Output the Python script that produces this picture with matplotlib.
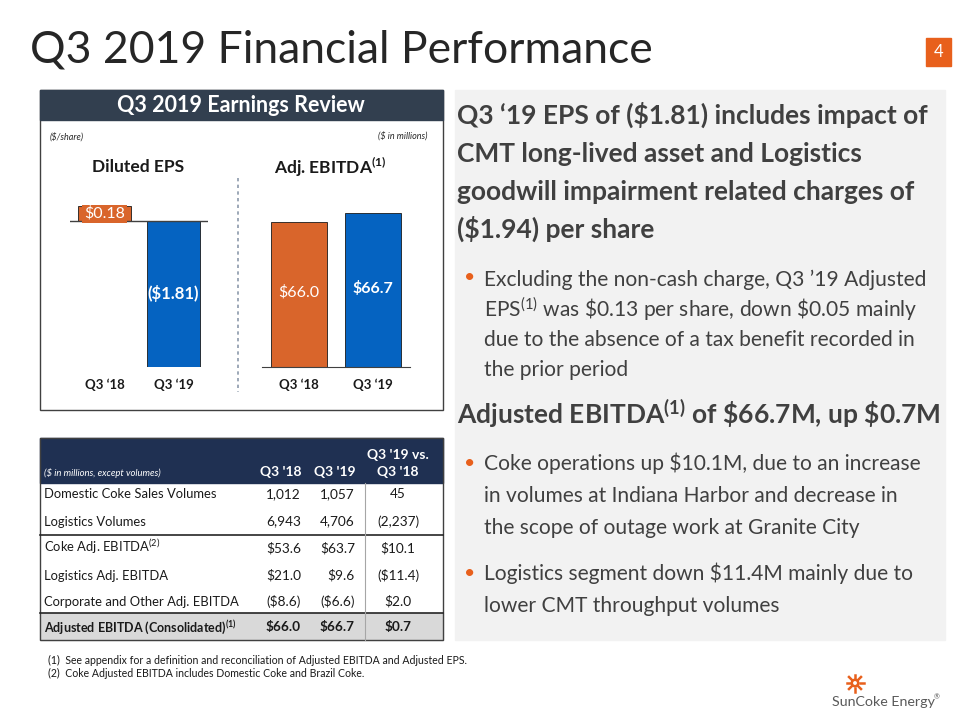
import numpy as np
import matplotlib.pyplot as plt
from matplotlib.patches import Rectangle, Circle

plt.rcParams['font.family'] = ['Lato', 'DejaVu Sans']
plt.rcParams['mathtext.fontset'] = 'custom'
plt.rcParams['mathtext.rm'] = 'Lato'
plt.rcParams['mathtext.it'] = 'Lato:italic'
plt.rcParams['mathtext.bf'] = 'Lato:bold'

# chart data
periods = ['Q3 \u201818', 'Q3 \u201819']
eps = [0.18, -1.81]
eps_labels = ['$0.18', '($1.81)']
ebitda = [66.0, 66.7]
ebitda_labels = ['$66.0', '$66.7']

# table data
row_labels = ['Domestic Coke Sales Volumes', 'Logistics Volumes',
              'Coke Adj. EBITDA$^{(2)}$', 'Logistics Adj. EBITDA',
              'Corporate and Other Adj. EBITDA',
              r'Adjusted EBITDA (Consolidated)$^{\mathbf{(1)}}$']
q3_18 = ['1,012', '6,943', '$53.6', '$21.0', '($8.6)', '$66.0']
q3_19 = ['1,057', '4,706', '$63.7', '$9.6', '($6.6)', '$66.7']
change = ['45', '(2,237)', '$10.1', '($11.4)', '$2.0', '$0.7']

ORANGE = '#d9652b'
BLUE = '#0563c1'
NAVY = '#323f4f'
TNAVY = '#1f3052'
TXT = '#404040'

W, H = 960, 720
fig = plt.figure(figsize=(9.6, 7.2), dpi=100)
ax = fig.add_axes([0, 0, 1, 1])
ax.set_xlim(0, W)
ax.set_ylim(H, 0)
ax.axis('off')


def px_axes(x0, y0, x1, y1):
    a = fig.add_axes([x0 / W, 1 - y1 / H, (x1 - x0) / W, (y1 - y0) / H])
    a.patch.set_alpha(0)
    return a


# title and page number
ax.text(30, 50, 'Q3 2019 Financial Performance', fontsize=32, color='#262626',
        va='center', ha='left')
ax.add_patch(Rectangle((926, 38), 25, 28, color='#e8601c'))
ax.text(938.5, 52, '4', color='white', fontsize=12, ha='center', va='center')

# left panel
ax.add_patch(Rectangle((40, 90), 403, 320, facecolor='white', edgecolor='#404040', lw=1))
ax.add_patch(Rectangle((40, 90), 403, 30, color=NAVY))
ax.text(241, 106, 'Q3 2019 Earnings Review', color='white', fontsize=15.5,
        fontweight='bold', ha='center', va='center')
ax.text(50, 137, '($/share)', fontsize=6.5, style='italic', color='#262626',
        va='center', parse_math=False)
ax.text(428, 136, '($ in millions)', fontsize=6.5, style='italic', color='#262626',
        va='center', ha='right', parse_math=False)
ax.text(138, 167, 'Diluted EPS', fontsize=12.5, fontweight='bold', ha='center',
        va='center', color='#1a1a1a')
ax.text(330, 167, r'Adj. EBITDA$^{\mathbf{(1)}}$', fontsize=12.5, fontweight='bold',
        ha='center', va='center', color='#1a1a1a')
ax.plot([238, 238], [178, 392], ls=(0, (2, 2)), color='#8c9aab', lw=1.2)

# EPS bars
a1 = px_axes(70, 200, 208, 367)
a1.bar([0, 1], eps, width=0.77, color=[ORANGE, BLUE], edgecolor='#1a1a1a', lw=0.6)
a1.axhline(0, color='#404040', lw=1)
a1.set_xlim(-0.5, 1.5)
a1.set_ylim(-1.81, (221 - 200) / 80.7)
a1.text(0, eps[0] / 2, eps_labels[0], color='white', fontsize=11.5, ha='center',
        va='center', parse_math=False,
        bbox=dict(boxstyle='square,pad=0.1', fc=ORANGE, ec='none'))
a1.text(1, -0.9, eps_labels[1], color='white', fontsize=12, fontweight='bold',
        ha='center', va='center', parse_math=False)

# EBITDA bars
a2 = px_axes(262, 200, 410, 367)
a2.bar([0, 1], ebitda, width=0.76, color=[ORANGE, BLUE], edgecolor='#1a1a1a', lw=0.6)
a2.set_xlim(-0.5, 1.5)
a2.set_ylim(54.7, 54.7 + 167 / 12.86)
a2.text(0, 60.5, ebitda_labels[0], color='white', fontsize=11.5, ha='center',
        va='center', parse_math=False)
a2.text(1, 60.8, ebitda_labels[1], color='white', fontsize=11.5, fontweight='bold',
        ha='center', va='center', parse_math=False)

for a in (a1, a2):
    for s in ('top', 'left', 'right'):
        a.spines[s].set_visible(False)
    a.spines['bottom'].set_visible(a is a2)
    a.spines['bottom'].set_color('#404040')
    a.set_yticks([])
    a.set_xticks([0, 1])
    a.set_xticklabels(periods, fontsize=9.5, fontweight='bold', color='#1a1a1a')
    a.tick_params(axis='x', length=0, pad=8)

# table
tx0, tx1, ty0, ty1 = 40, 443, 438, 640
ax.add_patch(Rectangle((tx0, ty0), tx1 - tx0, 45, color=TNAVY))
ax.add_patch(Rectangle((tx0, 613), tx1 - tx0, 27, color='#d9d9d9'))
ax.add_patch(Rectangle((tx0, ty0), tx1 - tx0, ty1 - ty0, fill=False,
                       edgecolor='#404040', lw=1))
ax.plot([tx0, tx1], [534.5, 534.5], color='#262626', lw=1.2)
ax.plot([tx0, tx1], [613, 613], color='#262626', lw=1.2)
ax.plot([365, 365], [483, 640], color='#a6a6a6', lw=0.8)
ax.text(44, 473, '($ in millions, except volumes)', fontsize=6.8, style='italic',
        color='white', va='center', parse_math=False)
ax.text(302, 472, "Q3 '18", fontsize=10, fontweight='bold', color='white',
        ha='right', va='center')
ax.text(356, 472, "Q3 '19", fontsize=10, fontweight='bold', color='white',
        ha='right', va='center')
ax.text(398, 455, "Q3 '19 vs.", fontsize=10, fontweight='bold', color='white',
        ha='center', va='center')
ax.text(398, 472, "Q3 '18", fontsize=10, fontweight='bold', color='white',
        ha='center', va='center')
row_y = [494, 521, 548, 575, 601, 627]
for i, y in enumerate(row_y):
    last = i == len(row_y) - 1
    fw = 'bold' if last else 'normal'
    yb = y + 4.5
    ax.text(44, yb, row_labels[i], fontsize=9.0 if last else 9.4, color='#1a1a1a',
            va='baseline', fontweight=fw)
    ax.text(301, yb, q3_18[i], fontsize=9.8, color='#1a1a1a', va='baseline',
            ha='right', fontweight=fw, parse_math=False)
    ax.text(355, yb, q3_19[i], fontsize=9.8, color='#1a1a1a', va='baseline',
            ha='right', fontweight=fw, parse_math=False)
    ax.text(398, yb, change[i], fontsize=9.8, color='#1a1a1a', va='baseline',
            ha='center', fontweight=fw, parse_math=False)

# right text panel
ax.add_patch(Rectangle((455, 90), 490, 550, color='#f2f2f2'))
head1 = ['Q3 \u201819 EPS of ($1.81) includes impact of',
         'CMT long-lived asset and Logistics',
         'goodwill impairment related charges of',
         '($1.94) per share']
for j, line in enumerate(head1):
    ax.text(457, 115 + 38 * j + 9, line, fontsize=19, fontweight='bold', color=TXT,
            va='baseline', parse_math=False)

bullets = [
    ([278, 309, 338, 368],
     ['Excluding the non-cash charge, Q3 \u201919 Adjusted',
      r'EPS$^{(1)}$ was \$0.13 per share, down \$0.05 mainly',
      'due to the absence of a tax benefit recorded in',
      'the prior period']),
    ([463, 494, 526],
     ['Coke operations up $10.1M, due to an increase',
      'in volumes at Indiana Harbor and decrease in',
      'the scope of outage work at Granite City']),
    ([573, 604],
     ['Logistics segment down $11.4M mainly due to',
      'lower CMT throughput volumes']),
]
for ys, lines in bullets:
    ax.text(470, ys[0], '\u2022', fontsize=14, color='#e8601c', va='center', ha='center')
    for y, line in zip(ys, lines):
        ax.text(484, y + 7.5, line, fontsize=15.1, color=TXT, va='baseline',
                parse_math=line.startswith('EPS'))

ax.text(457, 415 + 9, r'Adjusted EBITDA$^{\mathbf{(1)}}$ of \$66.7M, up \$0.7M',
        fontsize=19, fontweight='bold', color=TXT, va='baseline')

# footnotes
ax.text(48, 660, '(1)  See appendix for a definition and reconciliation of Adjusted EBITDA and Adjusted EPS.',
        fontsize=7.6, color='#1a1a1a', va='center', parse_math=False)
ax.text(48, 673, '(2)  Coke Adjusted EBITDA includes Domestic Coke and Brazil Coke.',
        fontsize=7.6, color='#1a1a1a', va='center', parse_math=False)

# logo
cx, cy = 855, 683
for ang in np.linspace(0, 2 * np.pi, 8, endpoint=False):
    ax.plot([cx + 4.5 * np.cos(ang), cx + 8.5 * np.cos(ang)],
            [cy + 4.5 * np.sin(ang), cy + 8.5 * np.sin(ang)], color='#e8601c', lw=1.8)
ax.add_patch(Circle((cx, cy), 3.2, fill=False, edgecolor='#e8601c', lw=1.8))
ax.text(832, 702, 'SunCoke Energy', fontsize=10.3, color='#595959', va='center')
ax.text(934, 697, '\u00ae', fontsize=5, color='#595959', va='center')

fig.savefig('out.png', dpi=100)
